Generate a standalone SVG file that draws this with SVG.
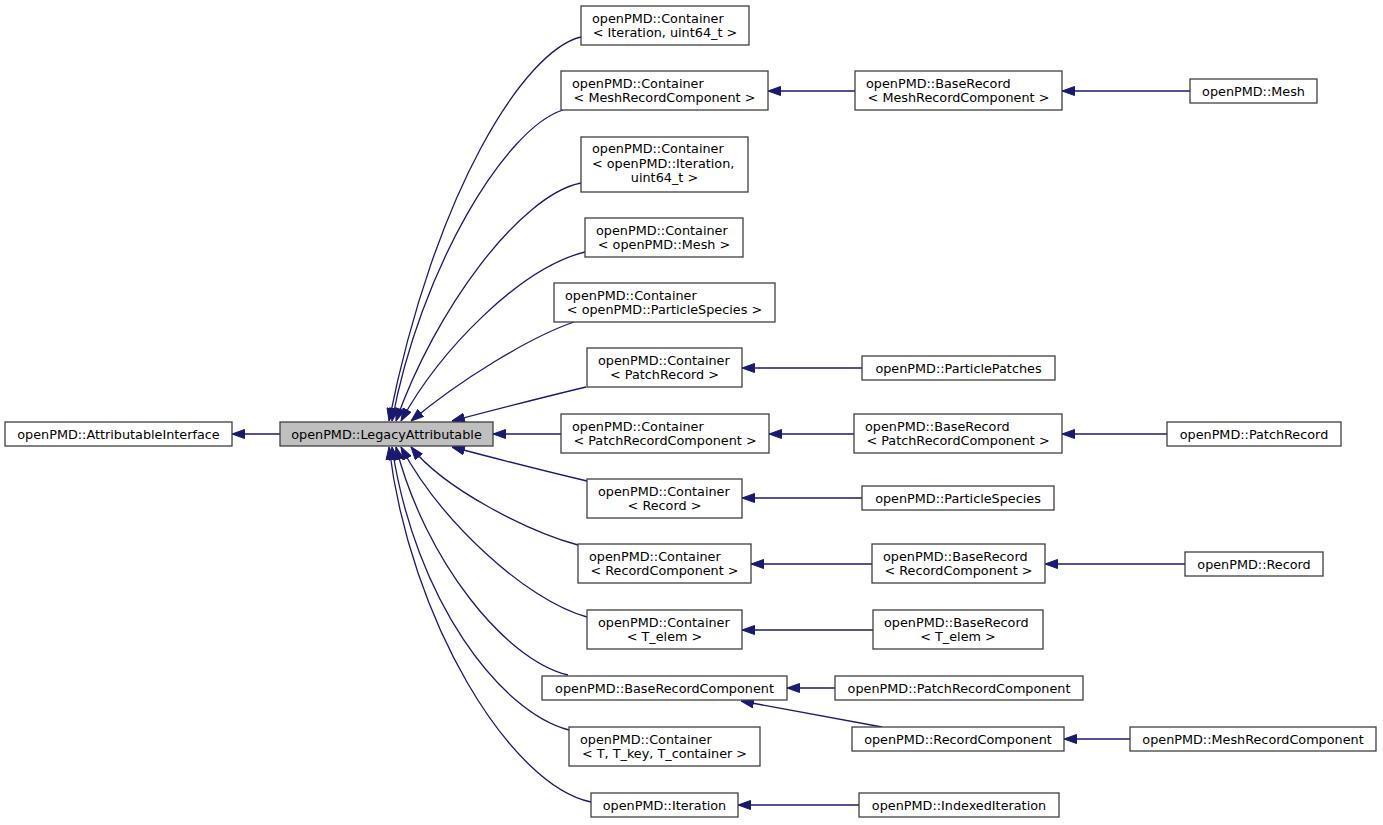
<svg xmlns="http://www.w3.org/2000/svg" width="1383" height="825" viewBox="0 0 1383 825">
<defs>
<style>
rect{fill:#ffffff;stroke:#404040;stroke-width:1.3}
rect.hl{fill:#bfbfbf}
text{font-family:"DejaVu Sans","Liberation Sans",sans-serif;font-size:12.8px;fill:#000}
text.c{text-anchor:middle}
#edges path{fill:none;stroke:#191970;stroke-width:1.3;marker-end:url(#ah)}
</style>
<marker id="ah" markerUnits="userSpaceOnUse" viewBox="0 0 13 10" markerWidth="13" markerHeight="10" refX="13" refY="5" orient="auto">
<path d="M0.5,0.5 L13,5 L0.5,9.5 z" fill="#191970" stroke="#191970" stroke-width="1"/>
</marker>
</defs>
<rect x="0" y="0" width="1383" height="825" style="fill:#fff;stroke:none"/>
<g id="edges">
<path d="M280,434 L232,434"/>
<path d="M561,434 L493,434"/>
<path d="M581,37 C525,50 435,190 389,421"/>
<path d="M563,110 C505,128 420,270 392,421"/>
<path d="M581,183 C520,195 435,310 396,421"/>
<path d="M585,252 C520,268 440,350 401,421"/>
<path d="M574,322 C530,337 460,380 411,421"/>
<path d="M586,387 C540,398 490,411 452,421"/>
<path d="M587,481 C540,470 490,457 452,447"/>
<path d="M578,545 C530,532 445,490 411,447"/>
<path d="M587,617 C525,600 440,520 401,447"/>
<path d="M568,675 C505,660 425,560 396,447"/>
<path d="M569,730 C500,712 415,600 392,447"/>
<path d="M591,802 C510,785 410,620 389,447"/>
<path d="M855,91 L768,91"/>
<path d="M1190,91 L1062,91"/>
<path d="M862,368 L742,368"/>
<path d="M854,434 L769,434"/>
<path d="M1167,434 L1062,434"/>
<path d="M862,498 L742,498"/>
<path d="M872,564 L751,564"/>
<path d="M1185,564 L1045,564"/>
<path d="M873,630 L742,630"/>
<path d="M835,688 L787,688"/>
<path d="M882,727 L741,701"/>
<path d="M1130,739 L1064,739"/>
<path d="M859,805 L738,805"/>
</g>
<g id="n_attributableinterface"><rect x="5" y="422" width="227" height="24"/><text class="c" x="118.5" y="438.5">openPMD::AttributableInterface</text></g>
<g id="n_legacyattributable"><rect class="hl" x="280" y="422" width="213" height="24"/><text class="c" x="386.5" y="438.5">openPMD::LegacyAttributable</text></g>
<g id="n_container_iteration_uint64"><rect x="581" y="6" width="168" height="39"/><text x="592" y="22.5">openPMD::Container</text><text class="c" x="665" y="37">&lt; Iteration, uint64_t &gt;</text></g>
<g id="n_container_meshrecordcomponent"><rect x="561" y="71" width="207" height="39"/><text x="572" y="87.5">openPMD::Container</text><text class="c" x="664.5" y="102">&lt; MeshRecordComponent &gt;</text></g>
<g id="n_baserecord_meshrecordcomponent"><rect x="855" y="71" width="207" height="39"/><text x="866" y="87.5">openPMD::BaseRecord</text><text class="c" x="958.5" y="102">&lt; MeshRecordComponent &gt;</text></g>
<g id="n_mesh"><rect x="1190" y="79" width="127" height="24"/><text class="c" x="1253.5" y="95.5">openPMD::Mesh</text></g>
<g id="n_container_openpmd_iteration"><rect x="581" y="137" width="167" height="55"/><text x="592" y="153.3">openPMD::Container</text><text x="592" y="167.7">&lt; openPMD::Iteration,</text><text class="c" x="664.5" y="181.9">uint64_t &gt;</text></g>
<g id="n_container_openpmd_mesh"><rect x="585" y="218" width="158" height="39"/><text x="596" y="234.5">openPMD::Container</text><text class="c" x="664" y="249">&lt; openPMD::Mesh &gt;</text></g>
<g id="n_container_particlespecies"><rect x="554" y="283" width="221" height="39"/><text x="565" y="299.5">openPMD::Container</text><text class="c" x="664.5" y="314">&lt; openPMD::ParticleSpecies &gt;</text></g>
<g id="n_container_patchrecord"><rect x="587" y="348" width="155" height="39"/><text x="598" y="364.5">openPMD::Container</text><text class="c" x="664.5" y="379">&lt; PatchRecord &gt;</text></g>
<g id="n_particlepatches"><rect x="862" y="356" width="193" height="24"/><text class="c" x="958.5" y="372.5">openPMD::ParticlePatches</text></g>
<g id="n_container_patchrecordcomponent"><rect x="561" y="414" width="208" height="39"/><text x="572" y="430.5">openPMD::Container</text><text class="c" x="665" y="445">&lt; PatchRecordComponent &gt;</text></g>
<g id="n_baserecord_patchrecordcomponent"><rect x="854" y="414" width="208" height="39"/><text x="865" y="430.5">openPMD::BaseRecord</text><text class="c" x="958" y="445">&lt; PatchRecordComponent &gt;</text></g>
<g id="n_patchrecord"><rect x="1167" y="422" width="174" height="24"/><text class="c" x="1254" y="438.5">openPMD::PatchRecord</text></g>
<g id="n_container_record"><rect x="587" y="479" width="155" height="39"/><text x="598" y="495.5">openPMD::Container</text><text class="c" x="664.5" y="510">&lt; Record &gt;</text></g>
<g id="n_particlespecies"><rect x="862" y="486" width="192" height="24"/><text class="c" x="958" y="502.5">openPMD::ParticleSpecies</text></g>
<g id="n_container_recordcomponent"><rect x="578" y="544" width="173" height="39"/><text x="589" y="560.5">openPMD::Container</text><text class="c" x="664.5" y="575">&lt; RecordComponent &gt;</text></g>
<g id="n_baserecord_recordcomponent"><rect x="872" y="544" width="173" height="39"/><text x="883" y="560.5">openPMD::BaseRecord</text><text class="c" x="958.5" y="575">&lt; RecordComponent &gt;</text></g>
<g id="n_record"><rect x="1185" y="552" width="138" height="24"/><text class="c" x="1254" y="568.5">openPMD::Record</text></g>
<g id="n_container_t_elem"><rect x="587" y="610" width="155" height="39"/><text x="598" y="626.5">openPMD::Container</text><text class="c" x="664.5" y="641">&lt; T_elem &gt;</text></g>
<g id="n_baserecord_t_elem"><rect x="873" y="610" width="170" height="39"/><text x="884" y="626.5">openPMD::BaseRecord</text><text class="c" x="958" y="641">&lt; T_elem &gt;</text></g>
<g id="n_baserecordcomponent"><rect x="542" y="676" width="245" height="24"/><text class="c" x="664.5" y="692.5">openPMD::BaseRecordComponent</text></g>
<g id="n_patchrecordcomponent"><rect x="835" y="676" width="248" height="24"/><text class="c" x="959" y="692.5">openPMD::PatchRecordComponent</text></g>
<g id="n_container_t_tkey_tcontainer"><rect x="569" y="727" width="191" height="39"/><text x="580" y="743.5">openPMD::Container</text><text class="c" x="664.5" y="758">&lt; T, T_key, T_container &gt;</text></g>
<g id="n_recordcomponent"><rect x="852" y="727" width="212" height="24"/><text class="c" x="958" y="743.5">openPMD::RecordComponent</text></g>
<g id="n_meshrecordcomponent"><rect x="1130" y="727" width="246" height="24"/><text class="c" x="1253" y="743.5">openPMD::MeshRecordComponent</text></g>
<g id="n_iteration"><rect x="591" y="793" width="147" height="24"/><text class="c" x="664.5" y="809.5">openPMD::Iteration</text></g>
<g id="n_indexediteration"><rect x="859" y="793" width="200" height="24"/><text class="c" x="959" y="809.5">openPMD::IndexedIteration</text></g>
</svg>
